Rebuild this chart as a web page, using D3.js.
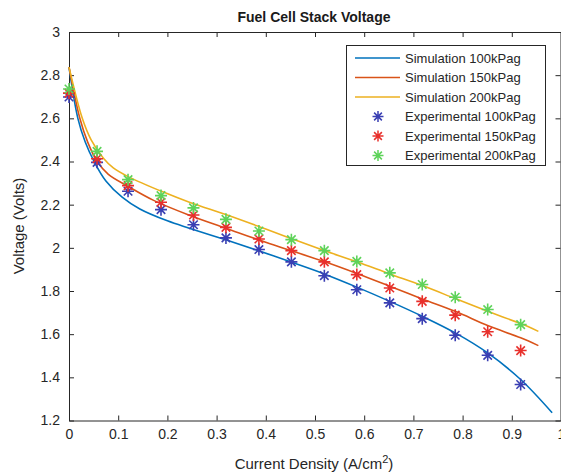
<!DOCTYPE html>
<html>
<head>
<meta charset="utf-8">
<script src="https://cdn.jsdelivr.net/npm/d3@7"></script>
<style>
body { margin: 0; background: #fff; }
svg { display: block; font-family: "Liberation Sans", Arial, sans-serif; }
</style>
</head>
<body>
<script>
// simulation curves
var sim100X = [0, 0.018, 0.033, 0.051, 0.075, 0.108, 0.144, 0.2, 0.246, 0.32, 0.387, 0.45, 0.52, 0.585, 0.652, 0.718, 0.785, 0.851, 0.918, 0.982];
var sim100V = [2.837, 2.6, 2.49, 2.4, 2.31, 2.235, 2.18, 2.125, 2.09, 2.036, 1.985, 1.935, 1.878, 1.818, 1.752, 1.683, 1.606, 1.513, 1.39, 1.236];
var sim150X = [0, 0.022, 0.038, 0.0575, 0.08, 0.12, 0.172, 0.246, 0.32, 0.407, 0.52, 0.585, 0.652, 0.718, 0.785, 0.851, 0.918, 0.954];
var sim150V = [2.837, 2.6, 2.49, 2.4, 2.34, 2.285, 2.22, 2.15, 2.09, 2.02, 1.935, 1.881, 1.822, 1.763, 1.706, 1.640, 1.583, 1.547];
var sim200X = [0, 0.027, 0.045, 0.07, 0.09, 0.12, 0.193, 0.246, 0.32, 0.388, 0.455, 0.52, 0.585, 0.652, 0.718, 0.785, 0.851, 0.918, 0.954];
var sim200V = [2.837, 2.6, 2.5, 2.415, 2.37, 2.33, 2.257, 2.21, 2.153, 2.097, 2.04, 1.986, 1.935, 1.879, 1.825, 1.765, 1.706, 1.649, 1.613];

// experimental points
var expX = [0, 0.057, 0.12, 0.187, 0.253, 0.319, 0.386, 0.452, 0.519, 0.585, 0.652, 0.718, 0.785, 0.851, 0.918];
var exp100 = [2.699, 2.396, 2.262, 2.177, 2.107, 2.046, 1.992, 1.935, 1.871, 1.806, 1.745, 1.672, 1.595, 1.502, 1.367];
var exp150 = [2.717, 2.413, 2.288, 2.211, 2.152, 2.095, 2.041, 1.987, 1.935, 1.876, 1.814, 1.752, 1.688, 1.611, 1.524];
var exp200 = [2.736, 2.447, 2.316, 2.242, 2.185, 2.132, 2.078, 2.038, 1.987, 1.937, 1.884, 1.830, 1.771, 1.714, 1.644];

var xTicks = [0, 0.1, 0.2, 0.3, 0.4, 0.5, 0.6, 0.7, 0.8, 0.9, 1];
var yTicks = [1.2, 1.4, 1.6, 1.8, 2, 2.2, 2.4, 2.6, 2.8, 3];
var legendLabels = ["Simulation 100kPag", "Simulation 150kPag", "Simulation 200kPag",
  "Experimental 100kPag", "Experimental 150kPag", "Experimental 200kPag"];

(function () {
var w = 561, h = 476;
var mLeft = 69, mRight = 561, mTop = 32, mBottom = 420.5;
var lineColors = ["#0072bd", "#d95319", "#edb120"];
var markColors = ["#3a3fb3", "#e8302c", "#5ed35a"];
var axisColor = "#262626";

var svg = d3.select("body").append("svg").attr("width", w).attr("height", h);

var x = d3.scaleLinear().domain([0, 1]).range([mLeft, mRight]);
var y = d3.scaleLinear().domain([1.2, 3]).range([mBottom, mTop]);

// axes, ticks pointing inward
var fmt = function (d) { return d3.format("~g")(d); };
svg.append("g").attr("transform", "translate(0," + mBottom + ")")
  .call(d3.axisBottom(x).tickValues(xTicks).tickSizeInner(-5).tickSizeOuter(0).tickPadding(9).tickFormat(fmt));
svg.append("g").attr("transform", "translate(" + mLeft + ",0)")
  .call(d3.axisLeft(y).tickValues(yTicks).tickSizeInner(-5).tickSizeOuter(0).tickPadding(9).tickFormat(fmt));
svg.append("g").attr("transform", "translate(0," + mTop + ")")
  .call(d3.axisTop(x).tickValues(xTicks).tickSizeInner(-5).tickSizeOuter(0).tickFormat(""));
svg.append("g").attr("transform", "translate(" + (mRight - 0.5) + ",0)")
  .call(d3.axisRight(y).tickValues(yTicks).tickSizeInner(-5).tickSizeOuter(0).tickFormat(""));

svg.selectAll(".domain").attr("stroke", axisColor);
svg.selectAll(".tick line").attr("stroke", axisColor);
svg.selectAll(".tick text").attr("fill", "#262626").style("font-size", "14px").style("font-family", "Liberation Sans, Arial, sans-serif");

// simulation lines
var line = d3.line().x(function (d) { return x(d[0]); }).y(function (d) { return y(d[1]); })
  .curve(d3.curveCatmullRom.alpha(0.5));
var sims = [[sim100X, sim100V], [sim150X, sim150V], [sim200X, sim200V]];
sims.forEach(function (s, i) {
  svg.append("path")
    .datum(d3.zip(s[0], s[1]))
    .attr("d", line)
    .attr("fill", "none")
    .attr("stroke", lineColors[i])
    .attr("stroke-width", 1.6);
});

// asterisk marker
function star(r) {
  var a = r * 0.707;
  return "M" + (-r) + ",0L" + r + ",0M0," + (-r) + "L0," + r +
    "M" + (-a) + "," + (-a) + "L" + a + "," + a + "M" + (-a) + "," + a + "L" + a + "," + (-a);
}

[exp100, exp150, exp200].forEach(function (vals, i) {
  svg.append("g").selectAll("path")
    .data(d3.zip(expX, vals))
    .enter()
    .append("path")
    .attr("transform", function (d) { return "translate(" + x(d[0]) + "," + y(d[1]) + ")"; })
    .attr("d", star(6))
    .attr("fill", "none")
    .attr("stroke", markColors[i])
    .attr("stroke-width", 1.6);
});

// titles
svg.append("text").attr("x", 314).attr("y", 22).attr("text-anchor", "middle")
  .style("font-size", "14px").style("font-weight", "bold").attr("fill", "#1a1a1a")
  .text("Fuel Cell Stack Voltage");

var xl = svg.append("text").attr("x", 314).attr("y", 469).attr("text-anchor", "middle")
  .style("font-size", "15px").attr("fill", "#262626");
xl.append("tspan").text("Current Density (A/cm");
xl.append("tspan").attr("dy", -6).style("font-size", "11px").text("2");
xl.append("tspan").attr("dy", 6).text(")");

svg.append("text").attr("transform", "translate(24,226) rotate(-90)").attr("text-anchor", "middle")
  .style("font-size", "15px").attr("fill", "#262626")
  .text("Voltage (Volts)");

// legend
var lg = svg.append("g");
lg.append("rect").attr("x", 346.5).attr("y", 45.5).attr("width", 199).attr("height", 120)
  .attr("fill", "#fff").attr("stroke", axisColor).attr("stroke-width", 1);
legendLabels.forEach(function (t, i) {
  var yy = 58 + i * 19.5;
  if (i < 3) {
    lg.append("line").attr("x1", 355).attr("x2", 400).attr("y1", yy).attr("y2", yy)
      .attr("stroke", lineColors[i]).attr("stroke-width", 1.6);
  } else {
    lg.append("path").attr("transform", "translate(378," + yy + ")").attr("d", star(5.5))
      .attr("fill", "none").attr("stroke", markColors[i - 3]).attr("stroke-width", 1.5);
  }
  lg.append("text").attr("x", 405).attr("y", yy + 4.5).style("font-size", "13px")
    .attr("fill", "#262626").text(t);
});
})();
</script>
</body>
</html>
